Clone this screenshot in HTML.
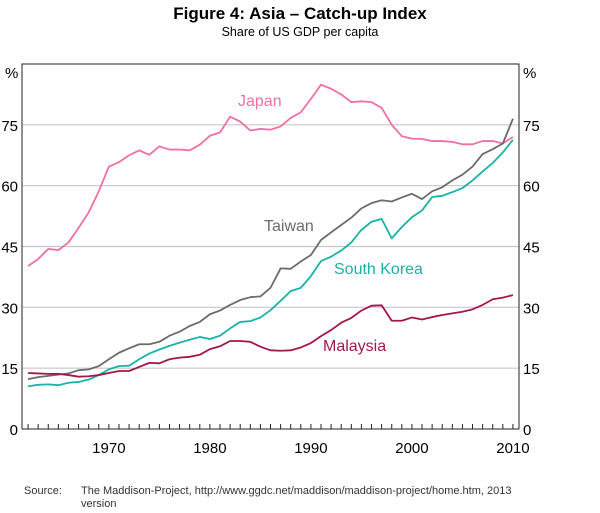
<!DOCTYPE html>
<html><head><meta charset="utf-8"><style>
body{margin:0;background:#fff;font-family:"Liberation Sans",sans-serif;}
</style></head><body>
<svg width="600" height="508" viewBox="0 0 600 508" xmlns="http://www.w3.org/2000/svg">
<text x="300" y="19" text-anchor="middle" font-size="17" font-weight="bold">Figure 4: Asia – Catch-up Index</text>
<text x="300" y="36" text-anchor="middle" font-size="12.5">Share of US GDP per capita</text>
<g id="grid"></g>
<g id="series"></g>
<g id="axes"></g>
<text x="5" y="78" font-size="15">%</text>
<text x="523" y="78" font-size="15">%</text>
<text x="238" y="106" font-size="16" fill="#f06fa6">Japan</text>
<text x="264" y="231" font-size="16" fill="#6b6b6b">Taiwan</text>
<text x="334" y="274" font-size="16" fill="#19b3a8">South Korea</text>
<text x="323" y="351" font-size="16" fill="#a3174a">Malaysia</text>
<text x="24" y="494" font-size="11" fill="#333">Source:</text>
<text x="81" y="494" font-size="11" fill="#333">The Maddison-Project, http://www.ggdc.net/maddison/maddison-project/home.htm, 2013</text>
<text x="81" y="507" font-size="11" fill="#333">version</text>
</svg>
<script>
const years=[1962,1963,1964,1965,1966,1967,1968,1969,1970,1971,1972,1973,1974,1975,1976,1977,1978,1979,1980,1981,1982,1983,1984,1985,1986,1987,1988,1989,1990,1991,1992,1993,1994,1995,1996,1997,1998,1999,2000,2001,2002,2003,2004,2005,2006,2007,2008,2009,2010];
const japan=[40.2,41.9,44.4,44.1,46,49.6,53.4,58.6,64.7,65.8,67.5,68.7,67.6,69.7,68.9,68.9,68.7,70.1,72.3,73.1,77,75.8,73.6,74,73.8,74.6,76.7,78.1,81.4,84.9,83.9,82.5,80.6,80.8,80.6,79.2,75,72.2,71.6,71.5,71,71,70.8,70.2,70.2,71,71,70.4,72];
const taiwan=[12.3,12.8,13.1,13.4,13.7,14.5,14.7,15.5,17.2,18.8,19.9,20.9,20.9,21.5,23,24,25.4,26.4,28.3,29.2,30.6,31.8,32.5,32.7,34.8,39.6,39.5,41.3,42.9,46.6,48.5,50.3,52.1,54.4,55.7,56.4,56.1,57.1,58,56.7,58.6,59.6,61.3,62.7,64.7,67.8,69,70.4,76.5];
const korea=[10.5,10.9,11,10.8,11.4,11.6,12.2,13.3,14.7,15.5,15.6,17.2,18.6,19.6,20.5,21.3,22,22.7,22.2,23,24.8,26.4,26.6,27.5,29.3,31.6,34,34.8,37.7,41.4,42.5,44,46,49.1,51.1,51.8,47,49.8,52.2,53.9,57.2,57.5,58.4,59.4,61.3,63.5,65.6,68.2,71.3];
const malaysia=[13.8,13.7,13.6,13.6,13.3,12.9,13,13.3,13.8,14.3,14.3,15.3,16.3,16.2,17.2,17.6,17.8,18.3,19.7,20.4,21.7,21.7,21.5,20.3,19.4,19.3,19.4,20.1,21.2,22.9,24.4,26.2,27.4,29.2,30.4,30.5,26.7,26.7,27.5,27,27.6,28.1,28.5,28.9,29.5,30.6,32,32.4,33];
const yTicks=[0,15,30,45,60,75];
const xTickLabels=[1970,1980,1990,2000,2010];
const L=22,R=519,T=64,B=429;
const X0=1961.4,X1=2010.6,Y1=90;
function sx(v){return L+(v-X0)/(X1-X0)*(R-L);}
function sy(v){return B-v/Y1*(B-T);}
const NS="http://www.w3.org/2000/svg";
function mk(tag,attrs,parent){const e=document.createElementNS(NS,tag);for(const k in attrs)e.setAttribute(k,attrs[k]);document.getElementById(parent).appendChild(e);return e;}
yTicks.forEach(v=>{
 if(v>0){const g=mk('line',{x1:L,x2:R,y1:sy(v),y2:sy(v),stroke:'#c8c8c8','stroke-width':1.2},'grid');
 
 }
 const t1=mk('text',{x:L-4,y:sy(v)+6,'text-anchor':'end','font-size':15},'axes');t1.textContent=v;
 
 
 const t2=mk('text',{x:R+4,y:sy(v)+6,'text-anchor':'start','font-size':15},'axes');t2.textContent=v;
 
 
});
const fr=mk('rect',{x:L,y:T,width:R-L,height:B-T,fill:'none',stroke:'#222','stroke-width':1},'axes');


for(let y=1962;y<=2010;y++){const tk=mk('line',{x1:sx(y),x2:sx(y),y1:B,y2:B-5,stroke:'#222','stroke-width':1},'axes');
 
 }
xTickLabels.forEach(v=>{const t=mk('text',{x:sx(v),y:B+24,'text-anchor':'middle','font-size':15},'axes');t.textContent=v;
 
 });
[[japan,'#f06fa6','japan'],[taiwan,'#6b6b6b','taiwan'],[korea,'#19b3a8','south-korea'],[malaysia,'#a3174a','malaysia']].forEach(([d,c,n])=>{
 const p=mk('polyline',{points:d.map((v,i)=>sx(years[i])+','+sy(v)).join(' '),fill:'none',stroke:c,'stroke-width':1.8,'stroke-linejoin':'round'},'series');
 
 
});
</script>
</body></html>
